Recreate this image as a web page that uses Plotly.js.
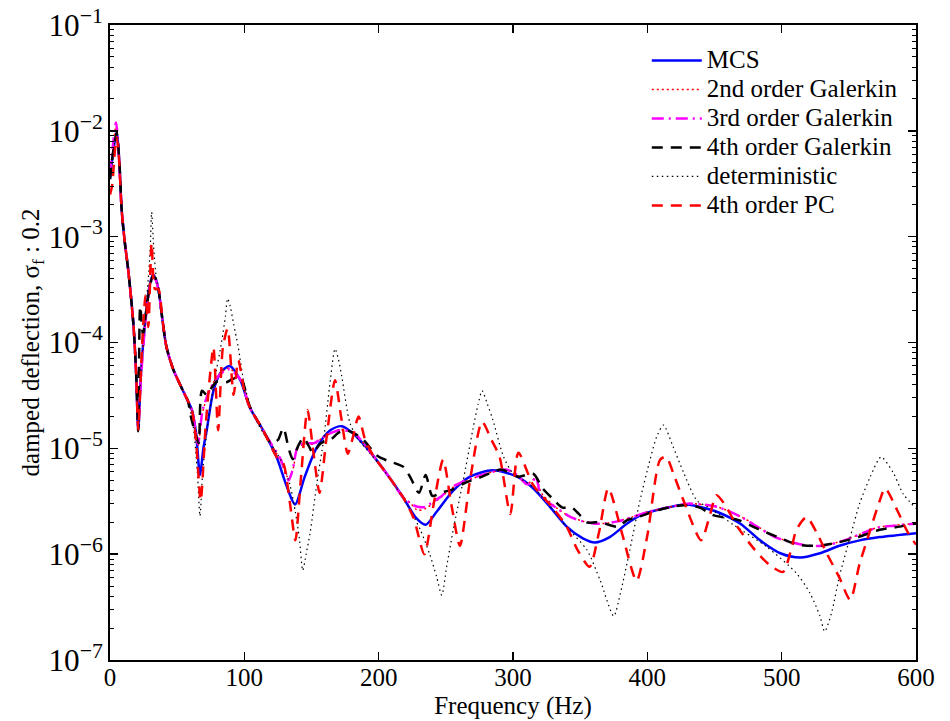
<!DOCTYPE html>
<html>
<head>
<meta charset="utf-8">
<script src="https://cdn.plot.ly/plotly-3.0.1.min.js"></script>
<style>html,body{margin:0;padding:0;background:#fff;}#chart{width:950px;height:721px;}</style>
</head>
<body>
<div id="chart"></div>
<script>
// ---------- data (frequency in Hz, damped deflection) ----------
const mcsX = [0,2.5,5,7,8.7,11,13.6,17.4,19.5,21,23,26,29,32,34,36,39,42,47,53,58,61,64,67,69.5,72,77,82,89,97,104,114,124,131.5,137.7,145,154,164,172.5,181,193.5,206,218,228,235,243,255.5,268,285,303,315,327.5,340,352,361,372,385,397,412,429,444,454,469,484,499,514,528.5,543,558,573,600];
const mcsY = [3.5e-3,6.5e-3,9.8e-3,5e-3,1.78e-3,8.9e-4,4.8e-4,1.5e-4,5e-5,1.48e-5,5e-5,1.5e-4,3.2e-4,4.4e-4,4e-4,3.2e-4,1.66e-4,9.1e-5,5.6e-5,3.8e-5,2.8e-5,2.3e-5,1.41e-5,5.6e-6,1e-5,1.48e-5,3.5e-5,5.1e-5,6e-5,4.4e-5,2.45e-5,1.48e-5,8.3e-6,4.4e-6,2.95e-6,5.4e-6,1.02e-5,1.48e-5,1.62e-5,1.38e-5,9.3e-6,5.75e-6,3.47e-6,2.19e-6,1.9e-6,2.5e-6,3.98e-6,5.4e-6,6.2e-6,5.4e-6,4.2e-6,2.8e-6,1.82e-6,1.41e-6,1.29e-6,1.45e-6,1.95e-6,2.4e-6,2.7e-6,2.95e-6,2.7e-6,2.45e-6,1.95e-6,1.35e-6,1.02e-6,9.3e-7,1.02e-6,1.2e-6,1.35e-6,1.45e-6,1.58e-6];

const gal2X = [0,2.5,4.5,6.5,8.7,11,13.6,17.4,19.5,21,23,26,29,31.5,34,36,39,42,47,53,58,61,64,65.5,69,74,80,88,97,104,114,120,127,133,136,140,145,152,158,165,171,178,183,193.5,206,218,224,229,235,240,247,253,262,270,285,295,303,310,317,321,333,343,352,360,368,378,389,400,412,430,440,452,470,483,495,508,520,530,542,556,571,585,600];
const gal2Y = [3.8e-3,7.5e-3,1.1e-2,6e-3,1.8e-3,8.9e-4,4.8e-4,1.5e-4,5e-5,1.6e-5,4.6e-5,1.4e-4,3e-4,4.2e-4,3.9e-4,3.2e-4,1.66e-4,9.1e-5,5.6e-5,3.8e-5,2.8e-5,2.3e-5,1.4e-5,1.05e-5,2.2e-5,3.5e-5,4.8e-5,5.7e-5,4.5e-5,2.45e-5,1.48e-5,1.1e-5,7.6e-6,5.2e-6,6.2e-6,1.02e-5,1.1e-5,1.1e-5,1.25e-5,1.4e-5,1.5e-5,1.45e-5,1.35e-5,9.3e-6,5.8e-6,3.5e-6,3e-6,2.6e-6,2.7e-6,3e-6,3.5e-6,4.1e-6,4.7e-6,5.2e-6,6e-6,6.2e-6,5.6e-6,4.6e-6,5.2e-6,3.8e-6,2.7e-6,2.25e-6,2.05e-6,1.95e-6,1.95e-6,2.05e-6,2.25e-6,2.5e-6,2.7e-6,3e-6,2.95e-6,2.8e-6,2.25e-6,1.8e-6,1.45e-6,1.3e-6,1.2e-6,1.2e-6,1.3e-6,1.5e-6,1.78e-6,1.88e-6,1.95e-6];

const gal3X = [0,2.5,4.5,6.5,8.7,11,13.6,17.4,19.5,21,23,26,29,31.5,34,36,39,42,47,53,58,61,64,65.5,69,74,80,88,97,104,114,120,127,133,136,140,145,152,158,165,171,178,183,193.5,206,218,224,229,235,240,247,253,262,270,285,295,303,310,314,317,321,333,343,352,360,368,378,389,400,412,430,440,452,470,483,495,508,520,530,542,556,571,585,600];
const gal3Y = [4e-3,8e-3,1.2e-2,6e-3,1.78e-3,8.9e-4,4.8e-4,1.5e-4,5e-5,1.7e-5,4.5e-5,1.4e-4,3e-4,4.2e-4,3.9e-4,3.2e-4,1.66e-4,9.1e-5,5.6e-5,3.8e-5,2.8e-5,2.3e-5,1.4e-5,1.1e-5,2.3e-5,3.5e-5,4.7e-5,5.6e-5,4.5e-5,2.45e-5,1.48e-5,1.1e-5,7.9e-6,5e-6,6.3e-6,1.05e-5,1.12e-5,1.12e-5,1.26e-5,1.41e-5,1.48e-5,1.45e-5,1.35e-5,9.3e-6,5.75e-6,3.47e-6,3e-6,2.8e-6,2.8e-6,3.1e-6,3.55e-6,4.2e-6,4.8e-6,5.25e-6,6e-6,6.3e-6,5.6e-6,4.6e-6,4.7e-6,5.4e-6,3.55e-6,2.7e-6,2.24e-6,2.04e-6,1.95e-6,1.95e-6,2.04e-6,2.24e-6,2.5e-6,2.7e-6,3e-6,2.95e-6,2.8e-6,2.24e-6,1.78e-6,1.45e-6,1.29e-6,1.2e-6,1.2e-6,1.29e-6,1.5e-6,1.78e-6,1.86e-6,1.95e-6];

const gal4X = [0,2.5,5,7,8.7,11,13.6,17.4,19.5,21,22.5,24.5,27,29.5,32,34,36,39,42,47,53,58,60,64,66,68.5,72,76,80,86.5,91,97,104,114,120,125,129,133,136,140,144,148,151,157,164,170,176,182,188,199,207,214,219,224,230,235,240,246,255,264,277,291,304,315,322,330,337,343,349,355,362,368,378,385,393,409,427,439,449,468,482,497,512,526,542,557,573,588,600];
const gal4Y = [3.5e-3,6.5e-3,9.5e-3,5e-3,1.78e-3,8.9e-4,4.8e-4,1.5e-4,5e-5,1.45e-5,2.2e-4,1.2e-4,2e-4,3.3e-4,4.2e-4,4e-4,3.2e-4,1.66e-4,9.1e-5,5.6e-5,3.8e-5,2.8e-5,2.04e-5,1.32e-5,1.12e-5,3.5e-5,3.2e-5,3.8e-5,4.3e-5,4.2e-5,4.5e-5,4.7e-5,2.5e-5,1.48e-5,1.12e-5,1.2e-5,1.55e-5,1e-5,7.9e-6,1.05e-5,1.26e-5,1.05e-5,9.1e-6,1.12e-5,1.2e-5,1.4e-5,1.48e-5,1.38e-5,1.23e-5,8.5e-6,7.6e-6,7.1e-6,6.6e-6,5.2e-6,3.8e-6,5.6e-6,3.55e-6,3.8e-6,4.1e-6,4.7e-6,5.4e-6,6.3e-6,5.4e-6,5.75e-6,4.2e-6,3.3e-6,2.75e-6,2.8e-6,2.4e-6,2e-6,2e-6,1.95e-6,1.82e-6,2.1e-6,2.24e-6,2.63e-6,2.9e-6,2.75e-6,2.34e-6,2.1e-6,1.74e-6,1.45e-6,1.23e-6,1.2e-6,1.29e-6,1.45e-6,1.7e-6,1.82e-6,1.95e-6];

const detX = [0,2.5,5,7,8.7,11,13.6,17.4,19.5,21,23,26,28.5,30,31,32.5,34.5,36.5,39,42,47,53,58,62,65,67,69,73,78,83,86,87.5,89.5,92,95.5,100,106,114,122,129,134,138,141,143.5,146,149,154,159,164,167.5,170,172.5,178.6,185,193.5,206,218,225,231,238,243,247,250.6,255.5,263,270,274,277,281,285,293,300,315,327,340,355,365,375,380,387,394.5,402,407,412,419,427,437,447,465,489,511,521,528.5,532,537,543,551,558,566,574,583,590.5,600];
const detY = [3.5e-3,6.5e-3,1e-2,5e-3,1.78e-3,8.9e-4,4.8e-4,1.5e-4,5e-5,1.45e-5,5e-5,1.6e-4,4e-4,8e-4,1.7e-3,8e-4,4e-4,3e-4,1.66e-4,9.1e-5,5.6e-5,3.8e-5,2.8e-5,1.6e-5,6e-6,2.3e-6,6e-6,1.8e-5,4.5e-5,1e-4,1.8e-4,2.6e-4,2.2e-4,1.5e-4,9e-5,4e-5,2.2e-5,1.4e-5,1e-5,7e-6,4.5e-6,2.5e-6,1.4e-6,7e-7,1e-6,1.6e-6,4.7e-6,1.2e-5,4.4e-5,8.7e-5,7e-5,4.8e-5,1.74e-5,1.2e-5,9e-6,5.7e-6,3.4e-6,2.4e-6,1.7e-6,1e-6,6.2e-7,4.1e-7,7.6e-7,1.7e-6,5e-6,1.48e-5,2.6e-5,3.5e-5,2.6e-5,1.86e-5,8.3e-6,5.8e-6,4.3e-6,2.9e-6,1.8e-6,1.1e-6,5.6e-7,2.6e-7,4.3e-7,1.1e-6,3.2e-6,7.8e-6,1.29e-5,1.66e-5,1.05e-5,5.9e-6,3.2e-6,2.7e-6,1.86e-6,1.17e-6,6.6e-7,4.3e-7,2.6e-7,1.86e-7,2.75e-7,6.2e-7,1.45e-6,3e-6,5.4e-6,8.3e-6,5.9e-6,3.7e-6,2.7e-6];

const pcX = [0,1.5,3.7,5,6.5,8.7,11,13.6,17.4,19.5,21,24,26.5,28.5,31,33.5,36,39,42,47,53,58,61,64,67.5,71,74.5,77,80.5,84,87.6,92,95.5,100,104,114,124,129,134,138,142,147,151.5,156,161,167.5,172,177,181,185,190,196,206,218,226,234,241,248,254,260.5,268,277,284,290,298,304,315,330,340,348,357,364,371,381,392,400,409.5,414,420,427,440,446,451.5,458,467,480,491,501,507,511,518.6,526,533.5,543,551,558,566,573,577,586,594,600];
const pcY = [2.5e-3,3e-3,6.6e-3,8.7e-3,6e-3,1.78e-3,8.9e-4,4.8e-4,1.5e-4,5e-5,1.5e-5,1e-4,2.8e-4,1.4e-4,8.7e-4,3.2e-4,3.2e-4,1.66e-4,9.1e-5,5.6e-5,3.8e-5,2.8e-5,2.3e-5,1.2e-5,3.2e-6,1.5e-5,5e-5,9e-5,1.48e-5,8.9e-5,1.35e-4,3.2e-5,6.8e-5,3.5e-5,2.45e-5,1.48e-5,8.3e-6,7.2e-6,3e-6,1.35e-6,5e-6,2.3e-5,9e-6,3.8e-6,1.2e-5,4.4e-5,2e-5,8.9e-6,1.3e-5,2e-5,1.2e-5,8.5e-6,5.75e-6,3.47e-6,2.2e-6,1e-6,3e-6,7.8e-6,3e-6,1.2e-6,5e-6,1.78e-5,1.2e-5,8.3e-6,2.4e-6,9.1e-6,4.5e-6,2.7e-6,1.82e-6,1.1e-6,7.6e-7,1.6e-6,4.2e-6,1.6e-6,5.6e-7,1.5e-6,7.8e-6,8.3e-6,5.5e-6,3.2e-6,1.35e-6,2.2e-6,3.6e-6,2.9e-6,1.82e-6,1.1e-6,7.9e-7,6.8e-7,1.1e-6,1.7e-6,2.24e-6,1.6e-6,1.02e-6,6e-7,3.7e-7,8.1e-7,1.7e-6,3.2e-6,4.2e-6,2.6e-6,1.6e-6,1.23e-6];

const seriesNames = ['MCS','2nd order Galerkin','3rd order Galerkin','4th order Galerkin','deterministic','4th order PC'];
const xTicks = [0,100,200,300,400,500,600];

// ---------- styling ----------
const FONT = '"Liberation Serif", "Times New Roman", serif';
const big = n => '<span style="font-size:25px">' + n + '</span>';
const traces = [
  {x: mcsX, y: mcsY, name: big(seriesNames[0]), line: {color: '#0000ff', width: 2.5, shape: 'spline', smoothing: 0.8}},
  {x: gal2X, y: gal2Y, name: big(seriesNames[1]), line: {color: '#ff0000', width: 1.5, dash: '2px,3px', shape: 'spline', smoothing: 0.8}},
  {x: gal3X, y: gal3Y, name: big(seriesNames[2]), line: {color: '#ff00ff', width: 2.5, dash: '12px,5px,2px,5px', shape: 'spline', smoothing: 0.8}},
  {x: gal4X, y: gal4Y, name: big(seriesNames[3]), line: {color: '#000000', width: 2.5, dash: '11px,8px', shape: 'spline', smoothing: 0.8}},
  {x: detX, y: detY, name: big(seriesNames[4]), line: {color: '#000000', width: 1.2, dash: '1.5px,3.5px', shape: 'spline', smoothing: 0.7}},
  {x: pcX, y: pcY, name: big(seriesNames[5]), line: {color: '#ff0000', width: 2.5, dash: '11px,8px', shape: 'spline', smoothing: 0.7}}
].map(t => Object.assign({type: 'scatter', mode: 'lines'}, t));

const layout = {
  width: 950, height: 721,
  margin: {l: 110, r: 34, t: 25, b: 61},
  paper_bgcolor: '#ffffff', plot_bgcolor: '#ffffff',
  font: {family: FONT, size: 25, color: '#000'},
  showlegend: true,
  legend: {
    x: 0.666, y: 0.975, xanchor: 'left', yanchor: 'top',
    bgcolor: 'rgba(0,0,0,0)', borderwidth: 0,
    font: {family: FONT, size: 20, color: '#000'},
    itemwidth: 50, tracegroupgap: 0
  },
  xaxis: {
    range: [0, 600], tickvals: xTicks, ticktext: xTicks.map(String),
    showgrid: false, zeroline: false,
    showline: true, linecolor: '#000', linewidth: 2, mirror: 'ticks',
    ticks: 'inside', ticklen: 8, tickwidth: 1.5, tickcolor: '#000',
    ticklabelstandoff: -6,
    tickfont: {family: FONT, size: 25},
    title: {text: 'Frequency (Hz)', font: {family: FONT, size: 25}, standoff: 6}
  },
  yaxis: {
    type: 'log', range: [-7, -1], dtick: 1, exponentformat: 'power',
    showgrid: false, zeroline: false,
    showline: true, linecolor: '#000', linewidth: 2, mirror: 'ticks',
    ticks: 'inside', ticklen: 8, tickwidth: 1.5, tickcolor: '#000',
    minor: {ticks: 'inside', ticklen: 4, tickwidth: 1, tickcolor: '#000', dtick: 'D1', showgrid: false},
    tickfont: {family: FONT, size: 25},
    title: {text: 'damped deflection, σ<sub>f</sub> : 0.2', font: {family: FONT, size: 25}, standoff: 0}
  }
};

Plotly.newPlot('chart', traces, layout, {displayModeBar: false, staticPlot: true});
</script>
</body>
</html>
